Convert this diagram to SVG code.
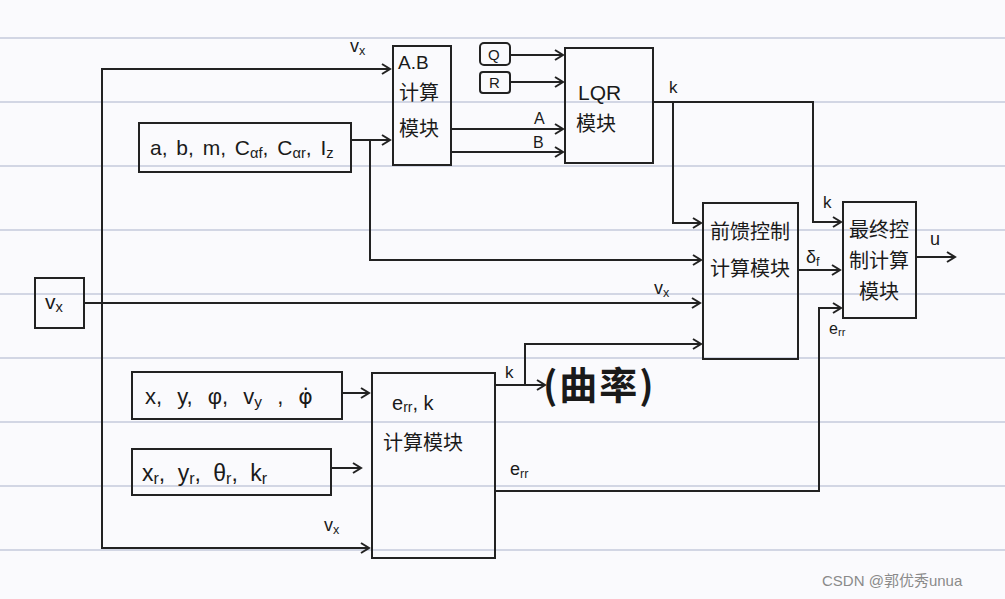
<svg xmlns="http://www.w3.org/2000/svg" width="1005" height="599" viewBox="0 0 1005 599">
<defs>
<style>
.box{fill:none;stroke:#222;stroke-width:2}
.wire{fill:none;stroke:#222;stroke-width:2}
.t{font-family:"Liberation Sans","Noto Sans CJK SC",sans-serif;fill:#1a1a1a}
.cn{font-family:"Noto Sans CJK SC",sans-serif;fill:#1a1a1a;font-size:20px}
.rule{stroke:#d2d6e4;stroke-width:2}
.sub{font-size:70%}
</style>
<marker id="arr" markerUnits="userSpaceOnUse" markerWidth="12" markerHeight="12" refX="9" refY="6" orient="auto">
<path d="M1,1 L9,6 L1,11" fill="none" stroke="#222" stroke-width="2"/>
</marker>
</defs>
<rect x="0" y="0" width="1005" height="599" fill="#fafafd"/>
<g id="ruled-lines">
<line class="rule" x1="0" y1="38" x2="1005" y2="38"/>
<line class="rule" x1="0" y1="102" x2="1005" y2="102"/>
<line class="rule" x1="0" y1="166" x2="1005" y2="166"/>
<line class="rule" x1="0" y1="230" x2="1005" y2="230"/>
<line class="rule" x1="0" y1="294" x2="1005" y2="294"/>
<line class="rule" x1="0" y1="358" x2="1005" y2="358"/>
<line class="rule" x1="0" y1="422" x2="1005" y2="422"/>
<line class="rule" x1="0" y1="486" x2="1005" y2="486"/>
<line class="rule" x1="0" y1="550" x2="1005" y2="550"/>
</g>
<g id="connectors">
<path class="wire" d="M84,303 H700" marker-end="url(#arr)"/>
<path class="wire" d="M102,303 V69 H390" marker-end="url(#arr)"/>
<path class="wire" d="M102,303 V548 H369" marker-end="url(#arr)"/>
<path class="wire" d="M351,140 H390" marker-end="url(#arr)"/>
<path class="wire" d="M370,140 V260 H701" marker-end="url(#arr)"/>
<path class="wire" d="M510,55 H563" marker-end="url(#arr)"/>
<path class="wire" d="M510,82 H563" marker-end="url(#arr)"/>
<path class="wire" d="M451,129 H563" marker-end="url(#arr)"/>
<path class="wire" d="M451,152 H563" marker-end="url(#arr)"/>
<path class="wire" d="M653,102 H813 V222 H841" marker-end="url(#arr)"/>
<path class="wire" d="M673,102 V223 H701" marker-end="url(#arr)"/>
<path class="wire" d="M798,270 H840" marker-end="url(#arr)"/>
<path class="wire" d="M916,257 H955" marker-end="url(#arr)"/>
<path class="wire" d="M342,393 H369" marker-end="url(#arr)"/>
<path class="wire" d="M331,468 H361" marker-end="url(#arr)"/>
<path class="wire" d="M495,385 H545" marker-end="url(#arr)"/>
<path class="wire" d="M525,385 V344 H701" marker-end="url(#arr)"/>
<path class="wire" d="M495,491 H819 V308 H841" marker-end="url(#arr)"/>
<text class="t" x="350" y="52" font-size="18">v<tspan class="sub" dy="3">x</tspan></text>
<text class="t" x="654" y="294" font-size="18">v<tspan class="sub" dy="3">x</tspan></text>
<text class="t" x="324" y="531" font-size="18">v<tspan class="sub" dy="3">x</tspan></text>
<text class="t" x="534" y="124" font-size="16">A</text>
<text class="t" x="533" y="148" font-size="16">B</text>
<text class="t" x="669" y="93" font-size="17">k</text>
<text class="t" x="823" y="208" font-size="17">k</text>
<text class="t" x="806" y="263" font-size="18">δ<tspan class="sub" dy="3">f</tspan></text>
<text class="t" x="930" y="245" font-size="18">u</text>
<text class="t" x="829" y="334" font-size="16">e<tspan class="sub" dy="2">rr</tspan></text>
<text class="t" x="505" y="378" font-size="17">k</text>
<text class="t" x="510" y="475" font-size="18">e<tspan class="sub" dy="3">rr</tspan></text>
<text class="t" x="543" y="399" font-size="38" font-weight="bold" letter-spacing="2" style="font-family:'Noto Sans CJK SC',sans-serif">(曲率)</text>
</g>
<g id="node-vx">
<rect class="box" x="35" y="278" width="49" height="50"/>
<text class="t" x="45" y="309" font-size="21">v<tspan class="sub" dy="3">x</tspan></text>
</g>
<g id="node-params">
<rect class="box" x="139" y="123" width="212" height="49"/>
<text class="t" x="150" y="155" font-size="21" word-spacing="3">a, b, m, C<tspan class="sub" dy="3">αf</tspan><tspan dy="-3">, C</tspan><tspan class="sub" dy="3">αr</tspan><tspan dy="-3">, I</tspan><tspan class="sub" dy="3">z</tspan></text>
</g>
<g id="node-ab">
<rect class="box" x="393" y="46" width="58" height="119"/>
<text class="t" x="398" y="69" font-size="19">A.B</text>
<text class="cn" x="399" y="100">计算</text>
<text class="cn" x="399" y="136">模块</text>
</g>
<g id="node-q">
<rect class="box" x="480" y="43" width="30" height="22" rx="4"/>
<text class="t" x="488" y="60" font-size="15">Q</text>
</g>
<g id="node-r">
<rect class="box" x="480" y="72" width="30" height="21" rx="3"/>
<text class="t" x="489" y="88" font-size="15">R</text>
</g>
<g id="node-lqr">
<rect class="box" x="565" y="48" width="88" height="115"/>
<text class="t" x="578" y="100" font-size="21">LQR</text>
<text class="cn" x="576" y="131" font-size="22">模块</text>
</g>
<g id="node-ff">
<rect class="box" x="703" y="203" width="95" height="156"/>
<text class="cn" x="710" y="239">前馈控制</text>
<text class="cn" x="710" y="276">计算模块</text>
</g>
<g id="node-final">
<rect class="box" x="843" y="202" width="73" height="116"/>
<text class="cn" x="849" y="237">最终控</text>
<text class="cn" x="849" y="268">制计算</text>
<text class="cn" x="859" y="299">模块</text>
</g>
<g id="node-state">
<rect class="box" x="132" y="372" width="210" height="47"/>
<text class="t" x="145" y="404" font-size="22" word-spacing="9">x, y, φ, v<tspan class="sub" dy="3">y</tspan><tspan dy="-3"> , </tspan><tspan style="font-family:'DejaVu Sans',sans-serif">φ̇</tspan></text>
</g>
<g id="node-ref">
<rect class="box" x="132" y="449" width="199" height="46"/>
<text class="t" x="142" y="481" font-size="23" word-spacing="6">x<tspan class="sub" dy="3">r</tspan><tspan dy="-3">, y</tspan><tspan class="sub" dy="3">r</tspan><tspan dy="-3">, θ</tspan><tspan class="sub" dy="3">r</tspan><tspan dy="-3">, k</tspan><tspan class="sub" dy="3">r</tspan></text>
</g>
<g id="node-err">
<rect class="box" x="372" y="373" width="123" height="185"/>
<text class="t" x="392" y="410" font-size="20">e<tspan class="sub" dy="2">rr</tspan><tspan dy="-2">, k</tspan></text>
<text class="cn" x="383" y="450" font-size="22">计算模块</text>
</g>
<text x="822" y="586" font-family="Liberation Sans, Noto Sans CJK SC, sans-serif" font-size="15" fill="#8a8a8a">CSDN @郭优秀unua</text>
</svg>
